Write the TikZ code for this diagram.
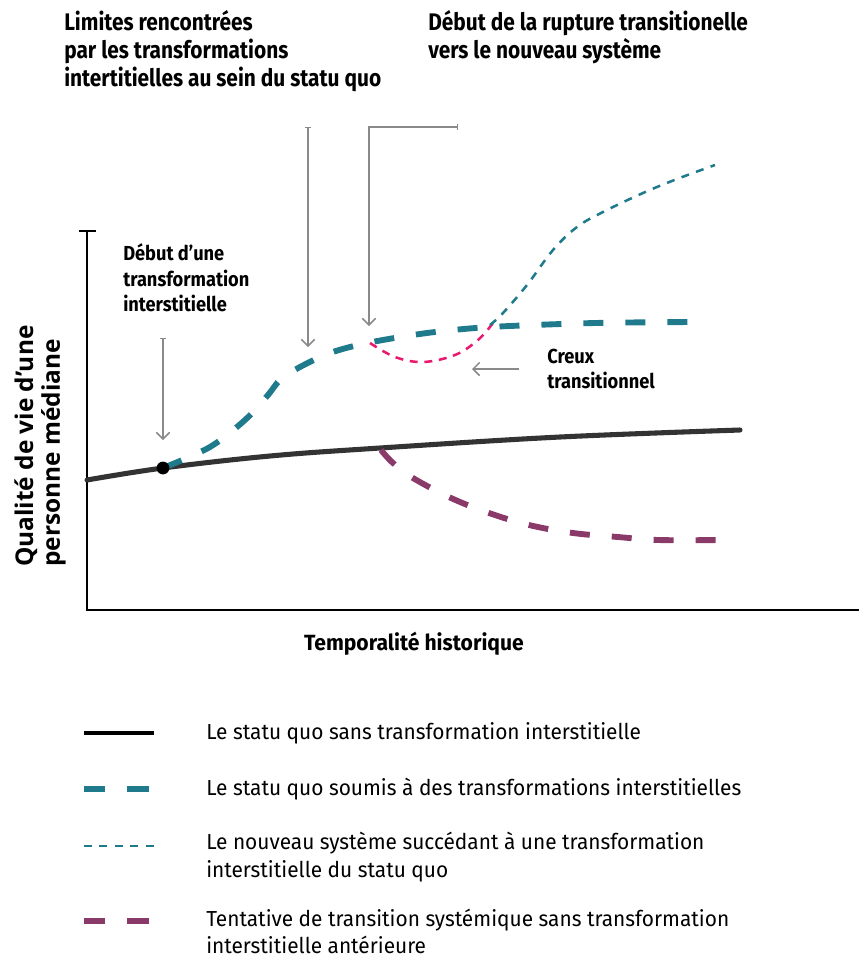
\documentclass[tikz,border=0pt]{standalone}
\usepackage{fontspec}
\setmainfont[FakeStretch=0.87]{Fira Sans}
\newfontfamily\legfont[FakeStretch=0.96]{Fira Sans}
\newfontfamily\annfont[FakeStretch=0.9]{Fira Sans}
\newfontfamily\ylabfont{Open Sans}
\usetikzlibrary{arrows.meta}
\definecolor{tealc}{HTML}{1F7B8C}
\definecolor{pinkc}{HTML}{E8196E}
\definecolor{purplec}{HTML}{893A69}
\definecolor{curvec}{HTML}{333333}
\definecolor{arrowc}{HTML}{8A8A8A}
\tikzset{
  axisline/.style={draw=black, line width=2.2pt},
  statusquo/.style={draw=curvec, line width=3.8pt},
  tealthick/.style={draw=tealc, line width=4.4pt, dash pattern=on 15pt off 16.5pt},
  tealthin/.style={draw=tealc, line width=1.9pt, dash pattern=on 6pt off 5.6pt},
  pinkthin/.style={draw=pinkc, line width=1.9pt, dash pattern=on 6pt off 5pt},
  purplethick/.style={draw=purplec, line width=4.4pt, dash pattern=on 15pt off 16.5pt},
  grayarrow/.style={draw=arrowc, line width=1.1pt, -{Straight Barb[length=5pt,width=10pt]}},
  graybararrow/.style={draw=arrowc, line width=1.1pt, {Bar[width=5pt]}-{Straight Barb[length=5pt,width=10pt]}},
  titletxt/.style={anchor=base west, inner sep=0pt, font=\fontsize{18pt}{21pt}\selectfont\bfseries},
  annottxt/.style={anchor=base west, inner sep=0pt, font=\fontsize{15.2pt}{18pt}\annfont\bfseries},
  legtxt/.style={anchor=base west, inner sep=0pt, font=\fontsize{16.3pt}{19pt}\legfont},
  ylabtxt/.style={anchor=base west, inner sep=0pt, rotate=90, font=\fontsize{18.3pt}{21pt}\ylabfont\bfseries},
}
\begin{document}
\begin{tikzpicture}[x=0.75pt,y=-0.75pt]
\useasboundingbox (0,0) rectangle (859,958);

% axes
\draw[axisline] (79,231) -- (96,231);
\draw[axisline] (87,231) -- (87,610) -- (859,610);

% status quo curve
\coordinate (sq0) at (87,480);
\coordinate (dotc) at (163,468);
\coordinate (sqend) at (740,430);
\draw[statusquo, line cap=round] plot[smooth, tension=0.6] coordinates {(87,480) (163,468) (270,456) (380,448) (560,437) (740,430)};

% purple curve
\draw[purplethick] plot[smooth, tension=0.6] coordinates {(381,450) (393,463) (413,478) (451,498) (489,513) (529,525) (573,533) (618,537) (658,540) (721,540)};

% teal thick dashed
\draw[tealthick] plot[smooth, tension=0.5] coordinates {(163,468) (210,447) (245,420) (268,395) (280,380) (300,367) (330,353) (367,343) (427,333) (490,327) (595,323) (695,322)};

% pink dip
\draw[pinkthin] plot[smooth, tension=0.6] coordinates {(370,343) (395,357) (423,362) (455,355) (478,340) (493,323)};

% thin teal new system
\draw[tealthin] plot[smooth, tension=0.6] coordinates {(490,325) (503,313) (527,285) (553,250) (577,227) (603,212) (643,193) (677,179) (715,165)};

% dot
\fill[black] (dotc) circle (4.8pt);

% gray arrows
\coordinate (a1s) at (163,338);
\coordinate (a1e) at (163,440);
\draw[graybararrow] (a1s) -- (a1e);
\coordinate (a2s) at (308,127);
\coordinate (a2e) at (308,347);
\draw[graybararrow] (a2s) -- (a2e);
\coordinate (a3s) at (458,127);
\coordinate (a3e) at (369,326);
\draw[graybararrow] (a3s) -| (a3e);
\coordinate (a4s) at (519,369);
\coordinate (a4e) at (472,369);
\draw[grayarrow] (a4s) -- (a4e);

% titles
\node[titletxt] (t1a) at (64,30) {Limites rencontrées};
\node[titletxt] (t1b) at (64,58) {par les transformations};
\node[titletxt] (t1c) at (64,86) {intertitielles au sein du statu quo};
\node[titletxt] (t2a) at (428,30) {Début de la rupture transitionelle};
\node[titletxt] (t2b) at (428,58) {vers le nouveau système};

% annotations
\node[annottxt] (d1) at (123,260) {Début d’une};
\node[annottxt] (d2) at (123,286) {transformation};
\node[annottxt] (d3) at (123,311) {interstitielle};
\node[annottxt] (c1) at (547,363) {Creux};
\node[annottxt] (c2) at (547,388) {transitionnel};

% axis labels
\node[anchor=base, inner sep=0pt, font=\fontsize{16.5pt}{19pt}\legfont\bfseries] (xlab) at (414,650) {Temporalité historique};
\node[ylabtxt] (yl1) at (33,567) {Qualité de vie d’une};
\node[ylabtxt] (yl2) at (60,567) {personne médiane};

% legend
\coordinate (l1a) at (84,733); \coordinate (l1b) at (154,733);
\draw[draw=black, line width=3.6pt] (l1a) -- (l1b);
\coordinate (l2a) at (84,789); \coordinate (l2b) at (154,789);
\draw[draw=tealc, line width=4pt, dash pattern=on 16pt off 16.5pt] (l2a) -- (l2b);
\coordinate (l3a) at (84,846); \coordinate (l3b) at (154,846);
\draw[draw=tealc, line width=1.9pt, dash pattern=on 6pt off 5.6pt] (l3a) -- (l3b);
\coordinate (l4a) at (84,921); \coordinate (l4b) at (154,921);
\draw[draw=purplec, line width=4pt, dash pattern=on 16pt off 16.5pt] (l4a) -- (l4b);

\node[legtxt] (lt1) at (206,739) {Le statu quo sans transformation interstitielle};
\node[legtxt] (lt2) at (206,795) {Le statu quo soumis à des transformations interstitielles};
\node[legtxt] (lt3a) at (206,849) {Le nouveau système succédant à une transformation};
\node[legtxt] (lt3b) at (206,877) {interstitielle du statu quo};
\node[legtxt] (lt4a) at (206,926) {Tentative de transition systémique sans transformation};
\node[legtxt] (lt4b) at (206,953) {interstitielle antérieure};
\end{tikzpicture}
\end{document}
